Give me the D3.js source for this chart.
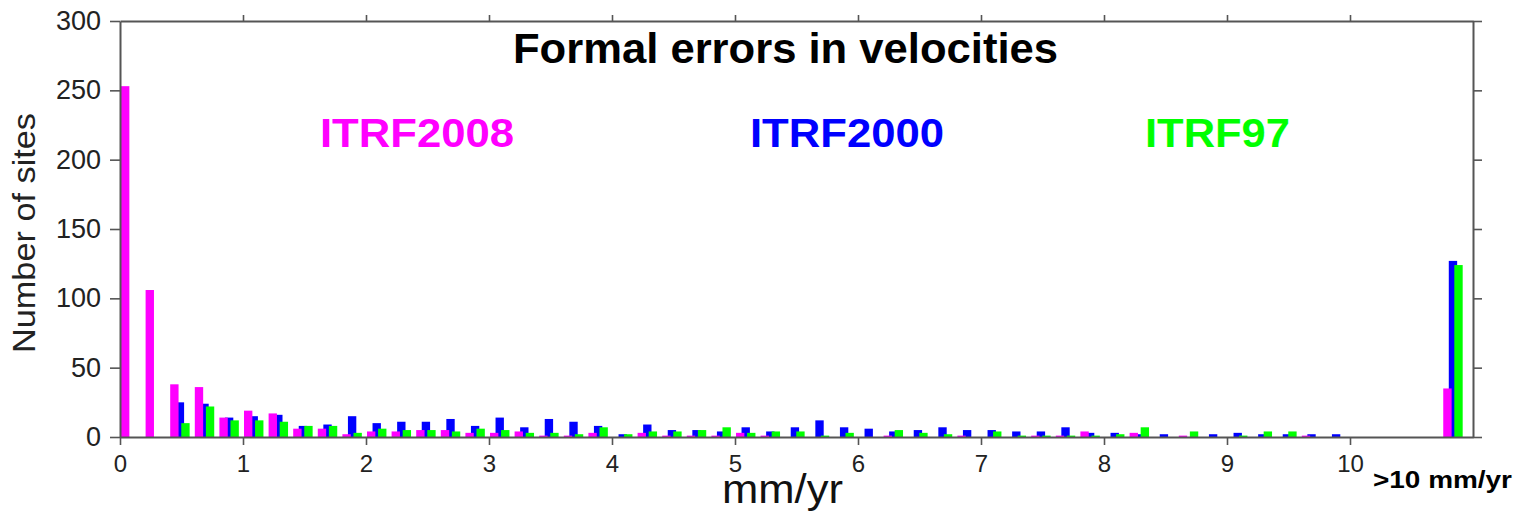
<!DOCTYPE html>
<html>
<head>
<meta charset="utf-8">
<script src="https://cdn.jsdelivr.net/npm/d3@7"></script>
<style>
  body { margin: 0; background: #fff; }
  svg { display: block; font-family: "Liberation Sans", Arial, Helvetica, sans-serif; }
</style>
</head>
<body>
<svg id="chart" width="1520" height="517"></svg>
<script>
// bin start (mm/yr), 0.2 wide; last bin is the ">10 mm/yr" overflow
const bins = [0.0, 0.2, 0.4, 0.6, 0.8, 1.0, 1.2, 1.4, 1.6, 1.8,
              2.0, 2.2, 2.4, 2.6, 2.8, 3.0, 3.2, 3.4, 3.6, 3.8,
              4.0, 4.2, 4.4, 4.6, 4.8, 5.0, 5.2, 5.4, 5.6, 5.8,
              6.0, 6.2, 6.4, 6.6, 6.8, 7.0, 7.2, 7.4, 7.6, 7.8,
              8.0, 8.2, 8.4, 8.6, 8.8, 9.0, 9.2, 9.4, 9.6, 9.8, 10.75];

const itrf2008 = [253, 106, 38, 36, 14, 19, 17, 6, 6, 2,
                  4, 4, 5, 5, 3, 3, 4, 1, 1, 3,
                  0, 3, 1, 1, 1, 3, 1, 0, 0, 0,
                  0, 1, 0, 0, 1, 0, 0, 1, 1, 4,
                  0, 3, 0, 1, 0, 0, 0, 0, 1, 0, 35];
const itrf2000 = [0, 0, 25, 24, 14, 15, 16, 8, 9, 15,
                  10, 11, 11, 13, 8, 14, 7, 13, 11, 8,
                  2, 9, 5, 5, 4, 7, 4, 7, 12, 7,
                  6, 4, 5, 7, 5, 5, 4, 4, 7, 3,
                  3, 2, 2, 0, 2, 3, 2, 2, 2, 2, 127];
const itrf97 = [0, 0, 10, 22, 12, 12, 11, 8, 8, 3,
                6, 5, 5, 4, 6, 5, 3, 3, 2, 7,
                2, 4, 4, 5, 7, 3, 4, 4, 1, 3,
                0, 5, 3, 2, 0, 4, 1, 1, 1, 1,
                2, 7, 0, 4, 0, 1, 4, 4, 0, 0, 124];

const xTicks = [0, 1, 2, 3, 4, 5, 6, 7, 8, 9, 10];
const yTicks = [0, 50, 100, 150, 200, 250, 300];

// drawn blue first, then magenta, then green (as in the plot)
const series = [
  {name: "ITRF2000", values: itrf2000, color: "#0000ff", offset: 0.045, labelX: 750},
  {name: "ITRF2008", values: itrf2008, color: "#ff00ff", offset: 0.0, labelX: 320},
  {name: "ITRF97", values: itrf97, color: "#00ff00", offset: 0.09, labelX: 1145}
];

const svg = d3.select("#chart");
const plotLeft = 120, plotRight = 1473, plotTop = 21, plotBottom = 437;

const x = d3.scaleLinear().domain([0, 11]).range([plotLeft, plotRight]);
const y = d3.scaleLinear().domain([0, 300]).range([plotBottom, plotTop]);
const barW = x(0.068) - x(0);

// bars
series.forEach(s => {
  svg.append("g").selectAll("rect")
    .data(bins.map((b, i) => ({b, v: s.values[i]})).filter(d => d.v > 0))
    .enter().append("rect")
    .attr("x", d => x(d.b + s.offset) + 1)
    .attr("y", d => y(d.v))
    .attr("width", barW)
    .attr("height", d => y(0) - y(d.v))
    .attr("fill", s.color);
});

const axisColor = "#555";
const styleAxis = g => {
  g.select(".domain").attr("stroke", axisColor).attr("stroke-width", 2);
  g.selectAll(".tick line").attr("stroke", axisColor).attr("stroke-width", 1.6);
  g.selectAll(".tick text").attr("fill", "#222").style("font-family", "Liberation Sans, Arial, sans-serif");
};

svg.append("g").attr("transform", `translate(0,${plotBottom})`)
  .call(d3.axisBottom(x).tickValues(xTicks).tickFormat(d3.format("d")).tickSize(8).tickPadding(10).tickSizeOuter(0))
  .call(styleAxis)
  .selectAll("text").style("font-size", "24px");

svg.append("g").attr("transform", `translate(0,${plotTop})`)
  .call(d3.axisTop(x).tickValues(xTicks.slice(1)).tickFormat("").tickSize(6).tickSizeOuter(0))
  .call(styleAxis);

svg.append("g").attr("transform", `translate(${plotLeft},0)`)
  .call(d3.axisLeft(y).tickValues(yTicks).tickFormat(d3.format("d")).tickSize(10).tickPadding(9).tickSizeOuter(0))
  .call(styleAxis)
  .selectAll("text").style("font-size", "27px");

svg.append("g").attr("transform", `translate(${plotRight},0)`)
  .call(d3.axisRight(y).tickValues(yTicks).tickFormat("").tickSize(9).tickSizeOuter(0))
  .call(styleAxis);

// titles
svg.append("text")
  .attr("x", 513).attr("y", 63)
  .attr("textLength", 545).attr("lengthAdjust", "spacingAndGlyphs")
  .style("font-size", "42px").style("font-weight", "bold")
  .text("Formal errors in velocities");

series.forEach(s => {
  const w = s.name == "ITRF97" ? 145 : 194;
  svg.append("text")
    .attr("x", s.labelX).attr("y", 147)
    .attr("textLength", w).attr("lengthAdjust", "spacingAndGlyphs")
    .attr("fill", s.color)
    .style("font-size", "41px").style("font-weight", "bold")
    .text(s.name);
});

svg.append("text")
  .attr("transform", "translate(35,233) rotate(-90)")
  .attr("text-anchor", "middle")
  .attr("textLength", 240).attr("lengthAdjust", "spacingAndGlyphs")
  .attr("fill", "#222")
  .style("font-size", "31px")
  .text("Number of sites");

svg.append("text")
  .attr("x", 722).attr("y", 503)
  .attr("textLength", 121).attr("lengthAdjust", "spacingAndGlyphs")
  .attr("fill", "#111")
  .style("font-size", "40px")
  .text("mm/yr");

svg.append("text")
  .attr("x", 1373).attr("y", 488)
  .attr("textLength", 139).attr("lengthAdjust", "spacingAndGlyphs")
  .style("font-size", "24px").style("font-weight", "bold")
  .text(">10 mm/yr");
</script>
</body>
</html>
